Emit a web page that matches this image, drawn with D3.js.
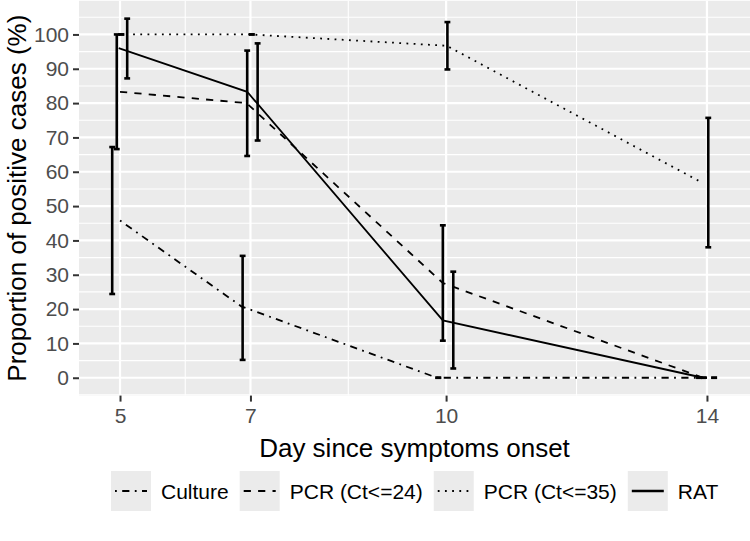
<!DOCTYPE html>
<html>
<head>
<meta charset="utf-8">
<script src="https://cdn.jsdelivr.net/npm/d3@7"></script>
<style>
  html, body { margin: 0; padding: 0; background: #ffffff; }
  svg { display: block; font-family: "Liberation Sans", Arial, sans-serif; }
</style>
</head>
<body>
<svg id="chart" width="750" height="541"></svg>
<script>
// ---------------- data ----------------
const days = [5, 7, 10, 14];
const seriesNames = ["Culture", "PCR (Ct<=24)", "PCR (Ct<=35)", "RAT"];
const seriesDash = ["dotdash", "dashed", "dotted", "solid"];

const cultureValues = [45.8, 20.8, 0, 0];
const cultureLower  = [24.4, 5.2, 0, 0];
const cultureUpper  = [67.2, 35.5, 0, 0];

const pcr24Values = [83.3, 80.0, 27.6, 0];
const pcr24Lower  = [66.6, 64.6, 10.8, 0];
const pcr24Upper  = [100, 95.3, 44.4, 0];

const pcr35Values = [100, 100, 96.7, 56.9];
const pcr35Lower  = [100, 100, 89.8, 38.0];
const pcr35Upper  = [100, 100, 103.6, 75.7];

const ratValues = [96.0, 83.3, 16.7, 0];
const ratLower  = [87.2, 69.1, 2.7, 0];
const ratUpper  = [104.6, 97.4, 30.9, 0];

// horizontal shift (in days) of the error bars of each series
const barShift = [-0.12, -0.05, 0.02, 0.11];
// horizontal shift (in days) of the line vertices of each series
const lineShift = [
  [0, -0.14, -0.14, 0],
  [0, -0.06, -0.05, -0.06],
  [-0.02, 0, 0.01, -0.08],
  [-0.02, -0.05, -0.05, -0.06]
];

const yTicks = [0, 10, 20, 30, 40, 50, 60, 70, 80, 90, 100];
const yMinor = [-5, 5, 15, 25, 35, 45, 55, 65, 75, 85, 95, 105];
const xMinor = [6, 8.5, 12];

const values = [cultureValues, pcr24Values, pcr35Values, ratValues];
const lowers = [cultureLower, pcr24Lower, pcr35Lower, ratLower];
const uppers = [cultureUpper, pcr24Upper, pcr35Upper, ratUpper];

// ---------------- layout ----------------
const svg = d3.select("#chart");
const panel = { left: 79, right: 750, top: 0.8, bottom: 395.6 };

const x = d3.scaleLinear().domain([4.371, 14.66]).range([panel.left, panel.right]);
const y = d3.scaleLinear().domain([-5.2, 109.8]).range([panel.bottom, panel.top]);

const lw = 1.8;
const dashMap = {
  solid: null,
  dashed: `${4*lw},${4*lw}`,
  dotted: `${1*lw},${3*lw}`,
  dotdash: `${1*lw},${3*lw},${4*lw},${3*lw}`
};

// panel background
svg.append("rect")
  .attr("x", panel.left).attr("y", panel.top)
  .attr("width", panel.right - panel.left).attr("height", panel.bottom - panel.top)
  .attr("fill", "#EBEBEB");

const grid = svg.append("g");
grid.selectAll(".ymin").data(yMinor).join("line")
  .attr("x1", panel.left).attr("x2", panel.right)
  .attr("y1", d => y(d)).attr("y2", d => y(d))
  .attr("stroke", "#ffffff").attr("stroke-width", 1.1);
grid.selectAll(".xmin").data(xMinor).join("line")
  .attr("y1", panel.top).attr("y2", panel.bottom)
  .attr("x1", d => x(d)).attr("x2", d => x(d))
  .attr("stroke", "#ffffff").attr("stroke-width", 1.1);
grid.selectAll(".ymaj").data(yTicks).join("line")
  .attr("x1", panel.left).attr("x2", panel.right)
  .attr("y1", d => y(d)).attr("y2", d => y(d))
  .attr("stroke", "#ffffff").attr("stroke-width", 2.2);
grid.selectAll(".xmaj").data(days).join("line")
  .attr("y1", panel.top).attr("y2", panel.bottom)
  .attr("x1", d => x(d)).attr("x2", d => x(d))
  .attr("stroke", "#ffffff").attr("stroke-width", 2.2);

// axes
const xAxis = d3.axisBottom(x).tickValues(days).tickSize(6).tickPadding(6).tickFormat(d3.format("d"));
const gx = svg.append("g").attr("transform", `translate(0,${panel.bottom})`).call(xAxis);
gx.select(".domain").remove();
gx.selectAll(".tick line").attr("stroke", "#333333").attr("stroke-width", 2);
gx.selectAll(".tick text").attr("fill", "#4D4D4D").attr("font-size", 21)
  .attr("font-family", "'Liberation Sans', Arial, sans-serif");

const yAxis = d3.axisLeft(y).tickValues(yTicks).tickSize(6).tickPadding(4).tickFormat(d3.format("d"));
const gy = svg.append("g").attr("transform", `translate(${panel.left},0)`).call(yAxis);
gy.select(".domain").remove();
gy.selectAll(".tick line").attr("stroke", "#333333").attr("stroke-width", 2);
gy.selectAll(".tick text").attr("fill", "#4D4D4D").attr("font-size", 21)
  .attr("font-family", "'Liberation Sans', Arial, sans-serif");

// titles
svg.append("text")
  .attr("x", (panel.left + panel.right) / 2).attr("y", 448)
  .attr("text-anchor", "middle").attr("dominant-baseline", "central")
  .attr("font-size", 26).attr("fill", "#000")
  .text("Day since symptoms onset");
svg.append("text")
  .attr("transform", `translate(17,${(panel.top + panel.bottom) / 2}) rotate(-90)`)
  .attr("text-anchor", "middle").attr("dominant-baseline", "central")
  .attr("font-size", 26).attr("fill", "#000")
  .text("Proportion of positive cases (%)");

// lines
const lineGen = d3.line().x(d => x(d.x)).y(d => y(d.y));
const plotG = svg.append("g");
seriesNames.forEach((name, si) => {
  const pts = days.map((d, i) => ({ x: d + lineShift[si][i], y: values[si][i] }));
  plotG.append("path")
    .datum(pts)
    .attr("d", lineGen)
    .attr("fill", "none")
    .attr("stroke", "#000")
    .attr("stroke-width", lw)
    .attr("stroke-dasharray", dashMap[seriesDash[si]]);
});

// error bars
const capHalf = 0.045;
seriesNames.forEach((name, si) => {
  const bars = days.map((d, i) => ({ x: d + barShift[si], lo: lowers[si][i], hi: uppers[si][i] }));
  const g = plotG.append("g").attr("stroke", "#000").attr("stroke-width", 2.6);
  g.selectAll(".v").data(bars).join("line")
    .attr("x1", d => x(d.x)).attr("x2", d => x(d.x))
    .attr("y1", d => y(d.lo)).attr("y2", d => y(d.hi));
  g.selectAll(".ct").data(bars).join("line")
    .attr("x1", d => x(d.x - capHalf)).attr("x2", d => x(d.x + capHalf))
    .attr("y1", d => y(d.hi)).attr("y2", d => y(d.hi));
  g.selectAll(".cb").data(bars).join("line")
    .attr("x1", d => x(d.x - capHalf)).attr("x2", d => x(d.x + capHalf))
    .attr("y1", d => y(d.lo)).attr("y2", d => y(d.lo));
});

// legend
const legend = svg.append("g");
const keyW = 40, keyH = 40, legendY = 491;
let cx = 111;
seriesNames.forEach((name, si) => {
  const item = legend.append("g").attr("transform", `translate(${cx},${legendY - keyH / 2})`);
  item.append("rect").attr("width", keyW).attr("height", keyH).attr("fill", "#EBEBEB");
  item.append("line")
    .attr("x1", 4).attr("x2", keyW - 4)
    .attr("y1", keyH / 2).attr("y2", keyH / 2)
    .attr("stroke", "#000").attr("stroke-width", si === 3 ? 2.6 : lw)
    .attr("stroke-dasharray", dashMap[seriesDash[si]]);
  const t = item.append("text")
    .attr("x", keyW + 10).attr("y", keyH / 2)
    .attr("dominant-baseline", "central")
    .attr("font-size", 21).attr("fill", "#000")
    .text(name);
  const tw = t.node().getComputedTextLength();
  cx += keyW + 10 + tw + 11;
});
</script>
</body>
</html>
